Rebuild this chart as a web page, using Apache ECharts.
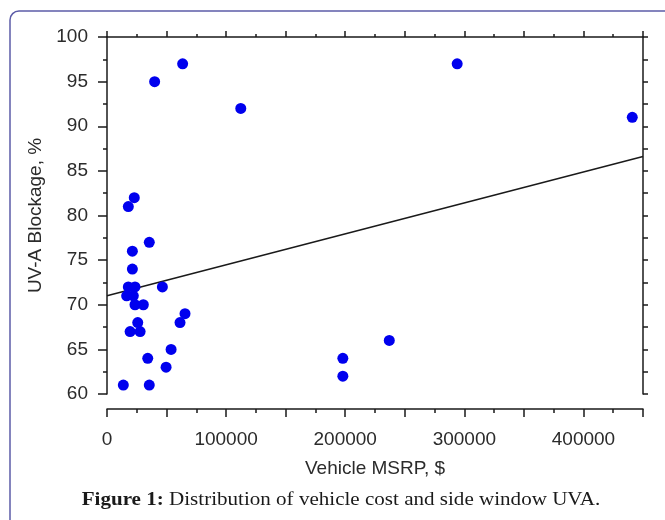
<!DOCTYPE html>
<html>
<head>
<meta charset="utf-8">
<script src="https://cdn.jsdelivr.net/npm/echarts@6/dist/echarts.min.js"></script>
<style>
html,body{margin:0;padding:0;background:#fff;}
#c{width:665px;height:520px;}
</style>
</head>
<body>
<div id="c"></div>
<script>
// Vehicle MSRP ($) and UV-A blockage (%) for each vehicle
const msrp = [13700, 35500, 49600, 34200, 53800, 19400, 27800, 25800, 61300, 65500,
              23500, 30500, 46500, 17900, 23500, 16500, 22100, 21300, 21300, 35500,
              17900, 22900, 40000, 63500, 112300, 294000, 441000, 198000, 198000, 237000];
const uvaBlock = [61, 61, 63, 64, 65, 67, 67, 68, 68, 69,
                  70, 70, 72, 72, 72, 71, 71, 74, 76, 77,
                  81, 82, 95, 97, 92, 97, 91, 64, 62, 66];
// Linear trend line end points
const trendX = [0, 450000];
const trendY = [71.0, 86.6];
// Axis tick labels
const xTickLabels = [0, 100000, 200000, 300000, 400000];
const yTickLabels = [60, 65, 70, 75, 80, 85, 90, 95, 100];

const chart = echarts.init(document.getElementById('c'));
const axisColor = '#1a1a1a';
const textColor = '#2b2b2b';
const font = 'Arial, "Liberation Sans", sans-serif';
const serif = '"Liberation Serif", "Times New Roman", serif';

const points = msrp.map((x, i) => [x, uvaBlock[i]]);
const trend = trendX.map((x, i) => [x, trendY[i]]);

chart.setOption({
  animation: false,
  backgroundColor: '#fff',
  grid: {left: 107, right: 22, top: 37, bottom: 126, containLabel: false},
  graphic: [
    {type: 'rect', shape: {x: 10, y: 11, width: 720, height: 600, r: 9},
     style: {fill: 'none', stroke: '#5c5ca8', lineWidth: 1.5}, z: 100},
    {type: 'text', x: 341, y: 500, scaleX: 1.17, scaleY: 1,
     style: {x: 0, y: 0, text: '{b|Figure 1:} Distribution of vehicle cost and side window UVA.',
       align: 'center', verticalAlign: 'middle',
       rich: {b: {fontWeight: 'bold', fontFamily: serif, fontSize: 18, fill: '#1a1a1a'}},
       fontFamily: serif, fontSize: 18, fill: '#1a1a1a'}}
  ],
  xAxis: [
    {type: 'value', position: 'bottom', offset: 15, min: 0, max: 450000, interval: 50000,
     splitLine: {show: false},
     axisLine: {onZero: false, lineStyle: {color: axisColor, width: 1.5}},
     axisTick: {length: 8, lineStyle: {color: axisColor, width: 1.5}},
     minorTick: {show: true, splitNumber: 2, length: 4, lineStyle: {color: axisColor, width: 1.5}},
     axisLabel: {margin: 21, color: textColor, fontSize: 19, fontFamily: font,
       formatter: v => xTickLabels.indexOf(v) >= 0 ? String(v) : ''},
     name: 'Vehicle MSRP, $', nameLocation: 'middle', nameGap: 50,
     nameTextStyle: {color: textColor, fontSize: 19, fontFamily: font}},
    {type: 'value', position: 'top', min: 0, max: 450000, interval: 50000,
     splitLine: {show: false},
     axisLine: {onZero: false, lineStyle: {color: axisColor, width: 1.5}},
     axisTick: {length: 6, lineStyle: {color: axisColor, width: 1.5}},
     minorTick: {show: true, splitNumber: 2, length: 3, lineStyle: {color: axisColor, width: 1.5}},
     axisLabel: {show: false}}
  ],
  yAxis: [
    {type: 'value', position: 'left', min: 60, max: 100, interval: 5,
     splitLine: {show: false},
     axisLine: {show: true, onZero: false, lineStyle: {color: axisColor, width: 1.5}},
     axisTick: {show: true, length: 9, lineStyle: {color: axisColor, width: 1.5}},
     minorTick: {show: true, splitNumber: 2, length: 4, lineStyle: {color: axisColor, width: 1.5}},
     axisLabel: {margin: 19, color: textColor, fontSize: 19, fontFamily: font,
       formatter: v => yTickLabels.indexOf(v) >= 0 ? String(v) : ''},
     name: 'UV-A Blockage, %', nameLocation: 'middle', nameGap: 56, nameRotate: 90,
     nameTextStyle: {color: textColor, fontSize: 19, fontFamily: font}},
    {type: 'value', position: 'right', min: 60, max: 100, interval: 2.5,
     splitLine: {show: false},
     axisLine: {show: true, onZero: false, lineStyle: {color: axisColor, width: 1.5}},
     axisTick: {show: true, length: 5, lineStyle: {color: axisColor, width: 1.5}},
     axisLabel: {show: false}}
  ],
  series: [
    {type: 'line', xAxisIndex: 0, yAxisIndex: 0, data: trend, symbol: 'none',
     lineStyle: {color: '#1a1a1a', width: 1.5}, z: 2},
    {type: 'scatter', xAxisIndex: 0, yAxisIndex: 0, data: points, symbol: 'circle', symbolSize: 11,
     itemStyle: {color: '#0000ee', opacity: 1}, z: 3}
  ]
});
</script>
</body>
</html>
